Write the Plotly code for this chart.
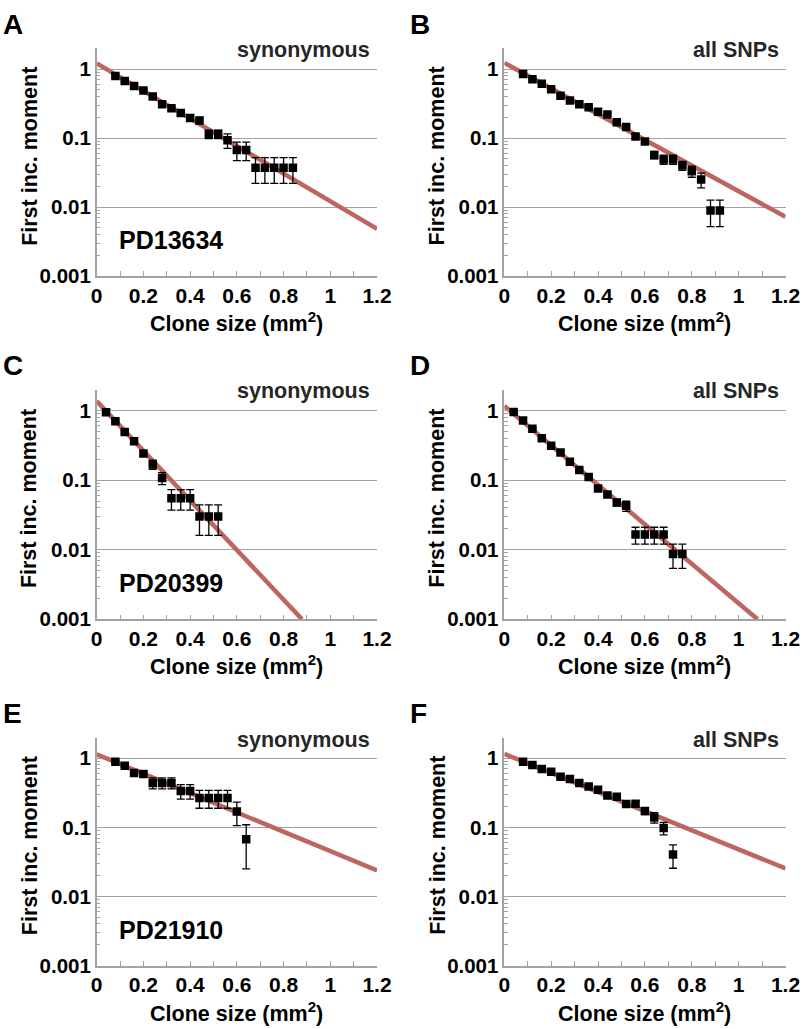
import plotly.graph_objects as go

W, H = 812, 1029

# ---------------- data ----------------
# Panel A (PD13634, synonymous)
a_x = [0.08, 0.12, 0.16, 0.20, 0.24, 0.28, 0.32, 0.36, 0.40, 0.44,
       0.48, 0.52, 0.56, 0.60, 0.64, 0.68, 0.72, 0.76, 0.80, 0.84]
a_y = [0.79, 0.67, 0.57, 0.49, 0.40, 0.31, 0.27, 0.23, 0.196, 0.18,
       0.114, 0.114, 0.093, 0.067, 0.067, 0.037, 0.037, 0.037, 0.037, 0.037]
a_err = [0.03, 0.025, 0.02, 0.02, 0.02, 0.015, 0.015, 0.015, 0.02, 0.02,
         0.016, 0.016, 0.022, 0.02, 0.02, 0.015, 0.015, 0.015, 0.015, 0.015]
a_fit_x = [0.0, 1.2]
a_fit_y = [1.21, 0.00484]

# Panel B (PD13634, all SNPs)
b_x = [0.08, 0.12, 0.16, 0.20, 0.24, 0.28, 0.32, 0.36, 0.40, 0.44, 0.48,
       0.52, 0.56, 0.60, 0.64, 0.68, 0.72, 0.76, 0.80, 0.84, 0.88, 0.92]
b_y = [0.85, 0.71, 0.61, 0.51, 0.41, 0.35, 0.31, 0.28, 0.24, 0.22, 0.17,
       0.144, 0.105, 0.089, 0.057, 0.049, 0.049, 0.040, 0.033, 0.025, 0.0089, 0.0089]
b_err = [0.02, 0.02, 0.015, 0.015, 0.012, 0.01, 0.01, 0.01, 0.01, 0.01, 0.008,
         0.008, 0.007, 0.006, 0.007, 0.0075, 0.0075, 0.006, 0.006, 0.006, 0.0037, 0.0037]
b_fit_x = [0.0, 1.2]
b_fit_y = [1.23, 0.0072]

# Panel C (PD20399, synonymous)
c_x = [0.04, 0.08, 0.12, 0.16, 0.20, 0.24, 0.28, 0.32, 0.36, 0.40, 0.44, 0.48, 0.52]
c_y = [0.94, 0.70, 0.49, 0.36, 0.24, 0.168, 0.107, 0.055, 0.055, 0.055, 0.030, 0.030, 0.030]
c_err = [0.03, 0.03, 0.025, 0.02, 0.02, 0.025, 0.021, 0.018, 0.018, 0.018, 0.014, 0.014, 0.014]
c_fit_x = [0.0, 0.879]
c_fit_y = [1.36, 0.001]

# Panel D (PD20399, all SNPs)
d_x = [0.04, 0.08, 0.12, 0.16, 0.20, 0.24, 0.28, 0.32, 0.36, 0.40,
       0.44, 0.48, 0.52, 0.56, 0.60, 0.64, 0.68, 0.72, 0.76]
d_y = [0.95, 0.72, 0.545, 0.40, 0.31, 0.249, 0.183, 0.14, 0.111, 0.0756,
       0.062, 0.0476, 0.0426, 0.0165, 0.0165, 0.0165, 0.0165, 0.0087, 0.0087]
d_err = [0.03, 0.03, 0.02, 0.015, 0.012, 0.01, 0.008, 0.006, 0.006, 0.005,
         0.005, 0.005, 0.007, 0.0045, 0.0045, 0.0045, 0.0045, 0.0033, 0.0033]
d_fit_x = [0.0, 1.081]
d_fit_y = [1.16, 0.001]

# Panel E (PD21910, synonymous)
e_x = [0.08, 0.12, 0.16, 0.20, 0.24, 0.28, 0.32, 0.36, 0.40, 0.44, 0.48, 0.52, 0.56, 0.60, 0.64]
e_y = [0.89, 0.78, 0.61, 0.59, 0.44, 0.44, 0.44, 0.336, 0.336, 0.266, 0.266, 0.266, 0.266, 0.169, 0.067]
e_err = [0.04, 0.04, 0.04, 0.04, 0.08, 0.08, 0.08, 0.08, 0.08, 0.077, 0.077, 0.077, 0.077, 0.063, 0.042]
e_fit_x = [0.0, 1.2]
e_fit_y = [1.14, 0.0238]

# Panel F (PD21910, all SNPs)
f_x = [0.08, 0.12, 0.16, 0.20, 0.24, 0.28, 0.32, 0.36, 0.40, 0.44, 0.48,
       0.52, 0.56, 0.60, 0.64, 0.68, 0.72]
f_y = [0.89, 0.80, 0.70, 0.64, 0.54, 0.50, 0.44, 0.39, 0.35, 0.29, 0.277,
       0.217, 0.219, 0.173, 0.139, 0.098, 0.0406]
f_err = [0.02, 0.02, 0.02, 0.02, 0.02, 0.02, 0.02, 0.02, 0.02, 0.02, 0.02,
         0.02, 0.02, 0.02, 0.024, 0.02, 0.015]
f_fit_x = [0.0, 1.2]
f_fit_y = [1.16, 0.0254]

panel_letters = ["A", "B", "C", "D", "E", "F"]
panel_subtitles = ["synonymous", "all SNPs", "synonymous", "all SNPs", "synonymous", "all SNPs"]
patients = ["PD13634", "PD20399", "PD21910"]

y_tickvals = [0.001, 0.01, 0.1, 1]
y_ticktext = ["0.001", "0.01", "0.1", "1"]
x_title = "Clone size (mm<sup>2</sup>)"
y_title = "First inc. moment"

panels = [
    (a_x, a_y, a_err, a_fit_x, a_fit_y),
    (b_x, b_y, b_err, b_fit_x, b_fit_y),
    (c_x, c_y, c_err, c_fit_x, c_fit_y),
    (d_x, d_y, d_err, d_fit_x, d_fit_y),
    (e_x, e_y, e_err, e_fit_x, e_fit_y),
    (f_x, f_y, f_err, f_fit_x, f_fit_y),
]

# ---------------- layout geometry (pixels) ----------------
col_px = [(96.7, 377.0), (504.3, 785.5)]
row_px = [(48.3, 276.0), (389.5, 619.3), (737.5, 965.5)]

FONT = "Liberation Sans, Arial, sans-serif"
FIT_COLOR = "#BD6660"
AX_COLOR = "#a3a3a3"


def px(x):
    return x / W


def py(y):
    return 1 - y / H


fig = go.Figure()
annotations = []

for i, (xs, ys, errs, fx, fy) in enumerate(panels):
    r, c = divmod(i, 2)
    n = i + 1
    xa = "x" if n == 1 else f"x{n}"
    ya = "y" if n == 1 else f"y{n}"
    fig.add_trace(go.Scatter(
        x=fx, y=fy, mode="lines", xaxis=xa, yaxis=ya,
        line=dict(color=FIT_COLOR, width=4.5), showlegend=False, hoverinfo="skip"))
    fig.add_trace(go.Scatter(
        x=xs, y=ys, mode="markers", xaxis=xa, yaxis=ya,
        marker=dict(symbol="square", size=8.5, color="black"),
        error_y=dict(type="data", array=errs, visible=True, color="black",
                     thickness=1.3, width=4),
        showlegend=False))

    x0, x1 = col_px[c]
    y0, y1 = row_px[r]
    xkey = "xaxis" if n == 1 else f"xaxis{n}"
    ykey = "yaxis" if n == 1 else f"yaxis{n}"
    fig.layout[xkey] = dict(
        domain=[px(x0), px(x1)], anchor=ya, range=[0, 1.2], automargin=False,
        dtick=0.2, tick0=0, showgrid=False, zeroline=False,
        showline=True, linecolor=AX_COLOR, linewidth=1.5,
        ticks="inside", ticklen=5, tickcolor=AX_COLOR, tickwidth=1,
        minor=dict(dtick=0.1, ticks="inside", ticklen=5, tickcolor=AX_COLOR, showgrid=False),
        tickfont=dict(family=FONT, size=21, color="black", weight="bold"),
        fixedrange=True)
    fig.layout[ykey] = dict(
        domain=[py(y1), py(y0)], anchor=xa, type="log", range=[-3, 0.301], automargin=False,
        tickmode="array", tickvals=y_tickvals, ticktext=y_ticktext,
        showgrid=True, gridcolor=AX_COLOR, gridwidth=1.2, zeroline=False,
        showline=True, linecolor=AX_COLOR, linewidth=1.5,
        ticks="inside", ticklen=5, tickcolor=AX_COLOR,
        minor=dict(dtick="D1", ticks="inside", ticklen=4, tickcolor=AX_COLOR, showgrid=False),
        tickfont=dict(family=FONT, size=20.5, color="black", weight="bold"),
        fixedrange=True)

    # panel letter
    lx = 1 if c == 0 else 408
    annotations.append(dict(
        x=px(lx), y=py(y0 - 24), xref="paper", yref="paper",
        text=panel_letters[i], showarrow=False, xanchor="left", yanchor="middle",
        font=dict(family=FONT, size=28, color="black", weight="bold")))
    # subtitle
    annotations.append(dict(
        x=px(x1 - 5), y=py(y0 + 2), xref="paper", yref="paper",
        text=panel_subtitles[i], showarrow=False, xanchor="right", yanchor="middle",
        font=dict(family=FONT, size=21.5, color="#262626", weight="bold")))
    # patient ID
    if c == 0:
        annotations.append(dict(
            x=px(x0 + 20), y=py(y1 - 36), xref="paper", yref="paper",
            text=patients[r], showarrow=False, xanchor="left", yanchor="middle",
            font=dict(family=FONT, size=25, color="black", weight="bold")))
    # axis titles
    annotations.append(dict(
        x=px((x0 + x1) / 2), y=py(y1 + 46), xref="paper", yref="paper",
        text=x_title, showarrow=False, xanchor="center", yanchor="middle",
        font=dict(family=FONT, size=21.5, color="black", weight="bold")))
    annotations.append(dict(
        x=px(x0 - 67), y=py((y0 + y1) / 2 - 6), xref="paper", yref="paper",
        text=y_title, showarrow=False, xanchor="center", yanchor="middle", textangle=-90,
        font=dict(family=FONT, size=21.5, color="black", weight="bold")))

fig.update_layout(
    width=W, height=H, margin=dict(l=0, r=0, t=0, b=0, autoexpand=False),
    paper_bgcolor="white", plot_bgcolor="white",
    annotations=annotations, showlegend=False)

# remove the page's default 8px body margin so the figure fills the window exactly
fig.write_html(
    "out.html",
    config={"displayModeBar": False},
    post_script="document.body.style.margin='0';document.body.style.overflow='hidden';")
